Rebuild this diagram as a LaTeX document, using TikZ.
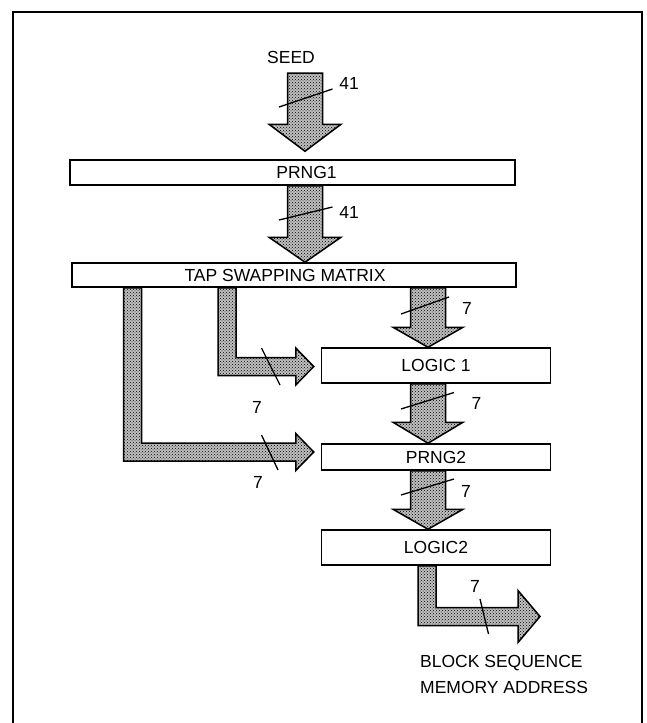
\documentclass[tikz,border=0pt]{standalone}
\usepackage{fontspec}
\setmainfont{Liberation Sans}
\usetikzlibrary{calc,patterns}

% fat bus arrow pointing down: start, tip, head length, head half width
\newcommand{\fatdown}[4]{%
  \path[bus] ($(#1)+(-17.5,0)$) -- ($(#2)+(-17.5,-#3)$) -- ($(#2)+(-#4,-#3)$) -- (#2)
    -- ($(#2)+(#4,-#3)$) -- ($(#2)+(17.5,-#3)$) -- ($(#1)+(17.5,0)$) -- cycle;}
% fat bus going down, then right: start, tip, head length, head half width
\newcommand{\fatelbow}[4]{%
  \path[bus] ($(#1)+(-9,0)$) -- ($(#1 |- #2)+(-9,9)$) -- ($(#2)+(-#3,9)$) -- ($(#2)+(-#3,#4)$) -- (#2)
    -- ($(#2)+(-#3,-#4)$) -- ($(#2)+(-#3,-9)$) -- ($(#1 |- #2)+(9,-9)$) -- ($(#1)+(9,0)$) -- cycle;}

\begin{document}
\begin{tikzpicture}[x=1pt,y=-1pt,
    every node/.style={font=\fontsize{17.5}{26}\selectfont},
    box/.style={draw, line width=1.5pt, inner sep=0pt},
    bus/.style={draw, line width=1.5pt, preaction={fill=gray!50}, pattern=crosshatch dots},
    tick/.style={line width=1.3pt}
  ]
  \useasboundingbox (0,0) rectangle (646,723);
  \draw[line width=2.5pt] (13,723) -- (13,12) -- (642,12) -- (642,723);

  % blocks
  \node (seed) at (291,57) {SEED};
  \node[box, minimum width=445, minimum height=25] (prng1) at (292.5,172.5) {\hspace*{28pt}PRNG1};
  \node[box, minimum width=444, minimum height=24] (tap) at (294,275) {TAP SWAPPING MATRIX\hspace*{18pt}};
  \node[box, minimum width=229, minimum height=35] (logic1) at (436,365.5) {LOGIC 1};
  \node[box, minimum width=229, minimum height=26] (prng2) at (436,457) {PRNG2};
  \node[box, minimum width=229, minimum height=35] (logic2) at (436,547.5) {LOGIC2};

  % bus lines
  \coordinate (seedbus) at (305,73);
  \coordinate (rbus) at (428,0);
  \coordinate (abus) at (227,0);
  \coordinate (bbus) at (132.5,0);
  \coordinate (obus) at (427,0);

  \coordinate (seedtip) at ($(prng1.north -| seedbus)+(0,-8)$);
  \fatdown{seedbus}{seedtip}{27}{36}
  \coordinate (tapin) at (prng1.south -| seedbus);
  \coordinate (taptip) at (tap.north -| seedbus);
  \fatdown{tapin}{taptip}{25}{36}

  \coordinate (l1in) at (tap.south -| rbus);
  \coordinate (l1tip) at (logic1.north -| rbus);
  \fatdown{l1in}{l1tip}{20}{35}
  \coordinate (p2in) at (logic1.south -| rbus);
  \coordinate (p2tip) at (prng2.north -| rbus);
  \fatdown{p2in}{p2tip}{21}{35}
  \coordinate (l2in) at (prng2.south -| rbus);
  \coordinate (l2tip) at (logic2.north -| rbus);
  \fatdown{l2in}{l2tip}{20}{35}

  \coordinate (ain) at (tap.south -| abus);
  \coordinate (atip) at ($(logic1.west)+(-7,1)$);
  \fatelbow{ain}{atip}{18}{18.5}
  \coordinate (bin) at (tap.south -| bbus);
  \coordinate (btip) at ($(prng2.west)+(-7,-5)$);
  \fatelbow{bin}{btip}{18}{18.5}
  \coordinate (oin) at (logic2.south -| obus);
  \coordinate (otip) at (540,616.5);
  \fatelbow{oin}{otip}{22}{26}

  % bus widths
  \draw[tick] (279,107) -- (332.5,89) node (w1) at (349,83) {41};
  \draw[tick] (279,220) -- (332.5,207) node (w2) at (349,212) {41};
  \draw[tick] (401,314) -- (449,297) node (w3) at (467,308) {7};
  \draw[tick] (261.5,348) -- (280,385) node (w4) at (257,407) {7};
  \draw[tick] (261.5,435) -- (278,470) node (w5) at (258,482) {7};
  \draw[tick] (401,409) -- (454,392.5) node (w6) at (476.5,403) {7};
  \draw[tick] (401,495) -- (454,479) node (w7) at (466,491) {7};
  \draw[tick] (480,599) -- (488.5,634) node (w8) at (475,586) {7};

  \node[anchor=north west, inner sep=0pt, align=left] (addr) at (420,655) {BLOCK SEQUENCE\\MEMORY ADDRESS};
\end{tikzpicture}
\end{document}
